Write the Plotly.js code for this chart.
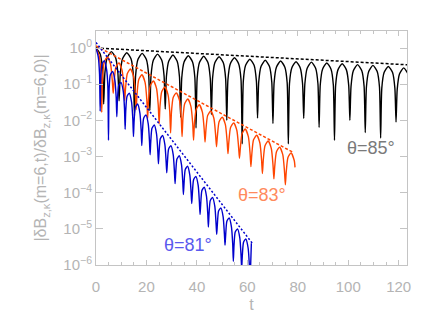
<!DOCTYPE html>
<html>
<head>
<meta charset="utf-8">
<script src="https://cdn.plot.ly/plotly-3.0.1.min.js"></script>
<style>
  html, body { margin: 0; padding: 0; background: #fff; }
  #g { width: 436px; height: 327px; }
</style>
</head>
<body>
<div id="g"></div>
<script>
// theta = 85 deg : t and log10 |dB|
const blackT = [0,1.68,2.59,3.05,3.51,4.42,6.10, 7.78,8.69,9.15,9.61,10.52,12.20, 13.88,14.79,15.25,15.71,16.62,18.30,
  19.98,20.89,21.35,21.81,22.72,24.40, 26.08,26.99,27.45,27.91,28.82,30.50, 32.18,33.09,33.55,34.01,34.92,36.60,
  38.28,39.19,39.65,40.11,41.02,42.70, 44.38,45.29,45.75,46.21,47.12,48.80, 50.48,51.39,51.85,52.31,53.22,54.90,
  56.58,57.49,57.95,58.41,59.32,61.00, 62.68,63.59,64.05,64.51,65.42,67.10, 68.78,69.69,70.15,70.61,71.52,73.20,
  74.88,75.79,76.25,76.71,77.62,79.30, 80.98,81.89,82.35,82.81,83.72,85.40, 87.08,87.99,88.45,88.91,89.82,91.50,
  93.18,94.09,94.55,95.01,95.92,97.60, 99.28,100.19,100.65,101.11,102.02,103.70, 105.38,106.29,106.75,107.21,108.12,109.80,
  111.48,112.39,112.85,113.31,114.22,115.90, 117.58,118.49,118.95,119.41,120.32,122.00, 123.68,124.59];
const blackLog = [0,-0.17,-0.60,-1.55,-0.70,-0.27,-0.10, -0.27,-0.70,-1.46,-0.73,-0.30,-0.13, -0.30,-0.73,-1.87,-0.75,-0.32,-0.15,
  -0.32,-0.75,-1.73,-0.77,-0.34,-0.17, -0.34,-0.77,-1.69,-0.795,-0.365,-0.195, -0.365,-0.795,-1.92,-0.815,-0.385,-0.215,
  -0.385,-0.815,-2.21,-0.83,-0.40,-0.23, -0.40,-0.83,-1.84,-0.84,-0.41,-0.24, -0.41,-0.84,-2.0,-0.87,-0.44,-0.27,
  -0.44,-0.87,-2.65,-0.91,-0.48,-0.31, -0.48,-0.91,-1.94,-0.94,-0.51,-0.34, -0.51,-0.94,-2.09,-0.96,-0.53,-0.36,
  -0.53,-0.96,-2.65,-0.98,-0.55,-0.38, -0.55,-0.98,-1.95,-0.99,-0.56,-0.39, -0.56,-0.99,-2.2,-1.015,-0.585,-0.415,
  -0.585,-1.015,-2.55,-1.035,-0.605,-0.435, -0.605,-1.035,-2.0,-1.06,-0.63,-0.46, -0.63,-1.06,-2.34,-1.08,-0.65,-0.48,
  -0.65,-1.08,-2.49,-1.11,-0.68,-0.51, -0.68,-1.11,-2.05,-1.15,-0.72,-0.55, -0.72,-1.15];

// theta = 83 deg
const orangeT = [0,1.25,1.93,2.275,2.62,3.30,4.55, 5.80,6.48,6.825,7.17,7.85,9.10, 10.35,11.03,11.375,11.72,12.40,13.65,
  14.90,15.58,15.925,16.27,16.95,18.20, 19.45,20.13,20.475,20.82,21.50,22.75, 24.00,24.68,25.025,25.37,26.05,27.30,
  28.55,29.23,29.575,29.92,30.60,31.85, 33.10,33.78,34.125,34.47,35.15,36.40, 37.65,38.33,38.675,39.02,39.70,40.95,
  42.20,42.88,43.225,43.57,44.25,45.50, 46.75,47.43,47.775,48.12,48.80,50.05, 51.30,51.98,52.325,52.67,53.35,54.60,
  55.85,56.53,56.875,57.22,57.90,59.15, 60.40,61.08,61.425,61.77,62.45,63.70, 64.95,65.63,65.975,66.32,67.00,68.25,
  69.50,70.18,70.525,70.87,71.55,72.80, 74.05,74.73,75.075,75.42,76.10,77.35, 78.60,78.90];
const orangeLog = [0,-0.21,-0.67,-1.78,-0.78,-0.38,-0.25, -0.46,-0.92,-1.25,-0.94,-0.54,-0.41, -0.62,-1.08,-1.45,-1.11,-0.71,-0.58,
  -0.79,-1.25,-1.7,-1.27,-0.87,-0.74, -0.95,-1.41,-1.95,-1.44,-1.04,-0.91, -1.12,-1.58,-2.1,-1.61,-1.21,-1.08,
  -1.29,-1.75,-2.35,-1.77,-1.37,-1.24, -1.45,-1.91,-2.45,-1.94,-1.54,-1.41, -1.62,-2.08,-2.55,-2.10,-1.70,-1.57,
  -1.78,-2.24,-2.6,-2.27,-1.87,-1.74, -1.95,-2.41,-2.73,-2.44,-2.04,-1.91, -2.12,-2.58,-2.92,-2.60,-2.20,-2.07,
  -2.28,-2.74,-3.05,-2.77,-2.37,-2.24, -2.45,-2.91,-3.28,-2.94,-2.54,-2.41, -2.62,-3.08,-3.47,-3.10,-2.70,-2.57,
  -2.78,-3.24,-3.62,-3.27,-2.87,-2.74, -2.95,-3.41,-3.78,-3.43,-3.03,-2.90, -3.11,-3.30];

// theta = 81 deg
const blueT = [0,0.91,1.40,1.65,1.90,2.39,3.30, 4.21,4.70,4.95,5.20,5.69,6.60, 7.51,8.00,8.25,8.50,8.99,9.90,
  10.81,11.30,11.55,11.80,12.29,13.20, 14.11,14.60,14.85,15.10,15.59,16.50, 17.41,17.90,18.15,18.40,18.89,19.80,
  20.71,21.20,21.45,21.70,22.19,23.10, 24.01,24.50,24.75,25.00,25.49,26.40, 27.31,27.80,28.05,28.30,28.79,29.70,
  30.61,31.10,31.35,31.60,32.09,33.00, 33.91,34.40,34.65,34.90,35.39,36.30, 37.21,37.70,37.95,38.20,38.69,39.60,
  40.51,41.00,41.25,41.50,41.99,42.90, 43.81,44.30,44.55,44.80,45.29,46.20, 47.11,47.60,47.85,48.10,48.59,49.50,
  50.41,50.90,51.15,51.40,51.89,52.80, 53.71,54.20,54.45,54.70,55.19,56.10, 57.01,57.50,57.75,58.00,58.49,59.40,
  60.31,60.80,61.05,61.30,61.60];
const blueLog = [0,-0.25,-0.72,-1.75,-0.83,-0.44,-0.35, -0.60,-1.07,-2.55,-1.13,-0.74,-0.65, -0.90,-1.37,-1.9,-1.43,-1.04,-0.95,
  -1.20,-1.67,-2.25,-1.73,-1.34,-1.25, -1.50,-1.97,-2.45,-2.03,-1.64,-1.55, -1.80,-2.27,-2.7,-2.33,-1.94,-1.85,
  -2.10,-2.57,-2.95,-2.61,-2.22,-2.13, -2.38,-2.85,-3.2,-2.90,-2.51,-2.42, -2.67,-3.14,-3.45,-3.18,-2.79,-2.70,
  -2.95,-3.42,-3.75,-3.46,-3.07,-2.98, -3.23,-3.70,-4.05,-3.75,-3.36,-3.27, -3.52,-3.99,-4.3,-4.03,-3.64,-3.55,
  -3.80,-4.27,-4.6,-4.33,-3.94,-3.85, -4.10,-4.57,-4.95,-4.61,-4.22,-4.13, -4.38,-4.85,-5.15,-4.90,-4.51,-4.42,
  -4.67,-5.14,-5.45,-5.18,-4.79,-4.70, -4.95,-5.42,-5.9,-5.48,-5.09,-5.00, -5.25,-5.72,-6.1,-5.76,-5.37,-5.28,
  -5.53,-6.0,-6.5,-6.03,-5.4];

// fitted decay lines (end points)
const blackFitT = [0, 125],  blackFitLog = [0.0, -0.47];
const orangeFitT = [0, 78],  orangeFitLog = [0.06, -2.88];
const blueFitT = [0, 62],    blueFitLog = [0.15, -5.4];

const labels = ['θ=85°', 'θ=83°', 'θ=81°'];
const labelT = [109.2, 66.0, 36.3];
const labelLog = [-2.76, -4.06, -5.44];

const yTickVals = [1, 1e-1, 1e-2, 1e-3, 1e-4, 1e-5, 1e-6];
const yTickText = ['10<sup>0</sup>', '10<sup>−1</sup>', '10<sup>−2</sup>', '10<sup>−3</sup>',
                   '10<sup>−4</sup>', '10<sup>−5</sup>', '10<sup>−6</sup>'];

const pw = a => a.map(v => Math.pow(10, v));

const BLACK = '#000000', ORANGE = '#ff4500', BLUE = '#0000cd';
const AXIS = '#c4c4c4', TXT = '#b4b4b4';

// curves: light spline smoothing rounds the lobe tops
const curve = (x, y, c) => ({ x: x, y: pw(y), mode: 'lines',
  line: { color: c, width: 1.4, shape: 'spline', smoothing: 0.6 } });

const traces = [
  curve(blackT, blackLog, BLACK),
  curve(orangeT, orangeLog, ORANGE),
  curve(blueT, blueLog, BLUE),
  { x: blackFitT, y: pw(blackFitLog), mode: 'lines', line: { color: BLACK, width: 1.5, dash: '3px,2px' } },
  { x: orangeFitT, y: pw(orangeFitLog), mode: 'lines', line: { color: ORANGE, width: 1.5, dash: '3px,2px' } },
  { x: blueFitT, y: pw(blueFitLog), mode: 'lines', line: { color: BLUE, width: 1.5, dash: '2px,2px' } }
];

const labelColors = ['#7a7a7a', '#ff8a5c', '#5a5aee'];
const annotations = labels.map((s, i) => ({
  x: labelT[i], y: labelLog[i], xref: 'x', yref: 'y', text: s, showarrow: false,
  font: { family: 'Liberation Sans, Arial, sans-serif', size: 18, color: labelColors[i] }
}));

const layout = {
  width: 436, height: 327,
  margin: { l: 96, r: 29, t: 31, b: 62 },
  paper_bgcolor: '#fff', plot_bgcolor: '#fff',
  showlegend: false,
  font: { family: 'Liberation Sans, Arial, sans-serif', size: 15, color: TXT },
  xaxis: {
    range: [0, 123.3], tick0: 0, dtick: 20,
    ticks: 'inside', ticklen: 5, tickcolor: AXIS, tickwidth: 1,
    minor: { dtick: 5, ticks: 'inside', ticklen: 3, tickcolor: AXIS },
    showline: true, linecolor: AXIS, linewidth: 1, mirror: 'ticks',
    showgrid: false, zeroline: false,
    ticklabelstandoff: 8,
    tickfont: { size: 15, color: TXT },
    title: { text: 't', font: { size: 16, color: TXT }, standoff: 4 }
  },
  yaxis: {
    type: 'log', range: [-6, 0.47],
    tickvals: yTickVals, ticktext: yTickText,
    ticks: 'inside', ticklen: 7, tickcolor: AXIS, tickwidth: 1,
    showline: true, linecolor: AXIS, linewidth: 1, mirror: 'ticks',
    showgrid: false, zeroline: false,
    tickfont: { size: 15, color: TXT },
    title: { text: '|δB<sub>z,κ</sub>(m=6,t)/δB<sub>z,κ</sub>(m=6,0)|', font: { size: 16, color: TXT }, standoff: 12 }
  },
  annotations: annotations
};

Plotly.newPlot('g', traces, layout, { staticPlot: true });
</script>
</body>
</html>
